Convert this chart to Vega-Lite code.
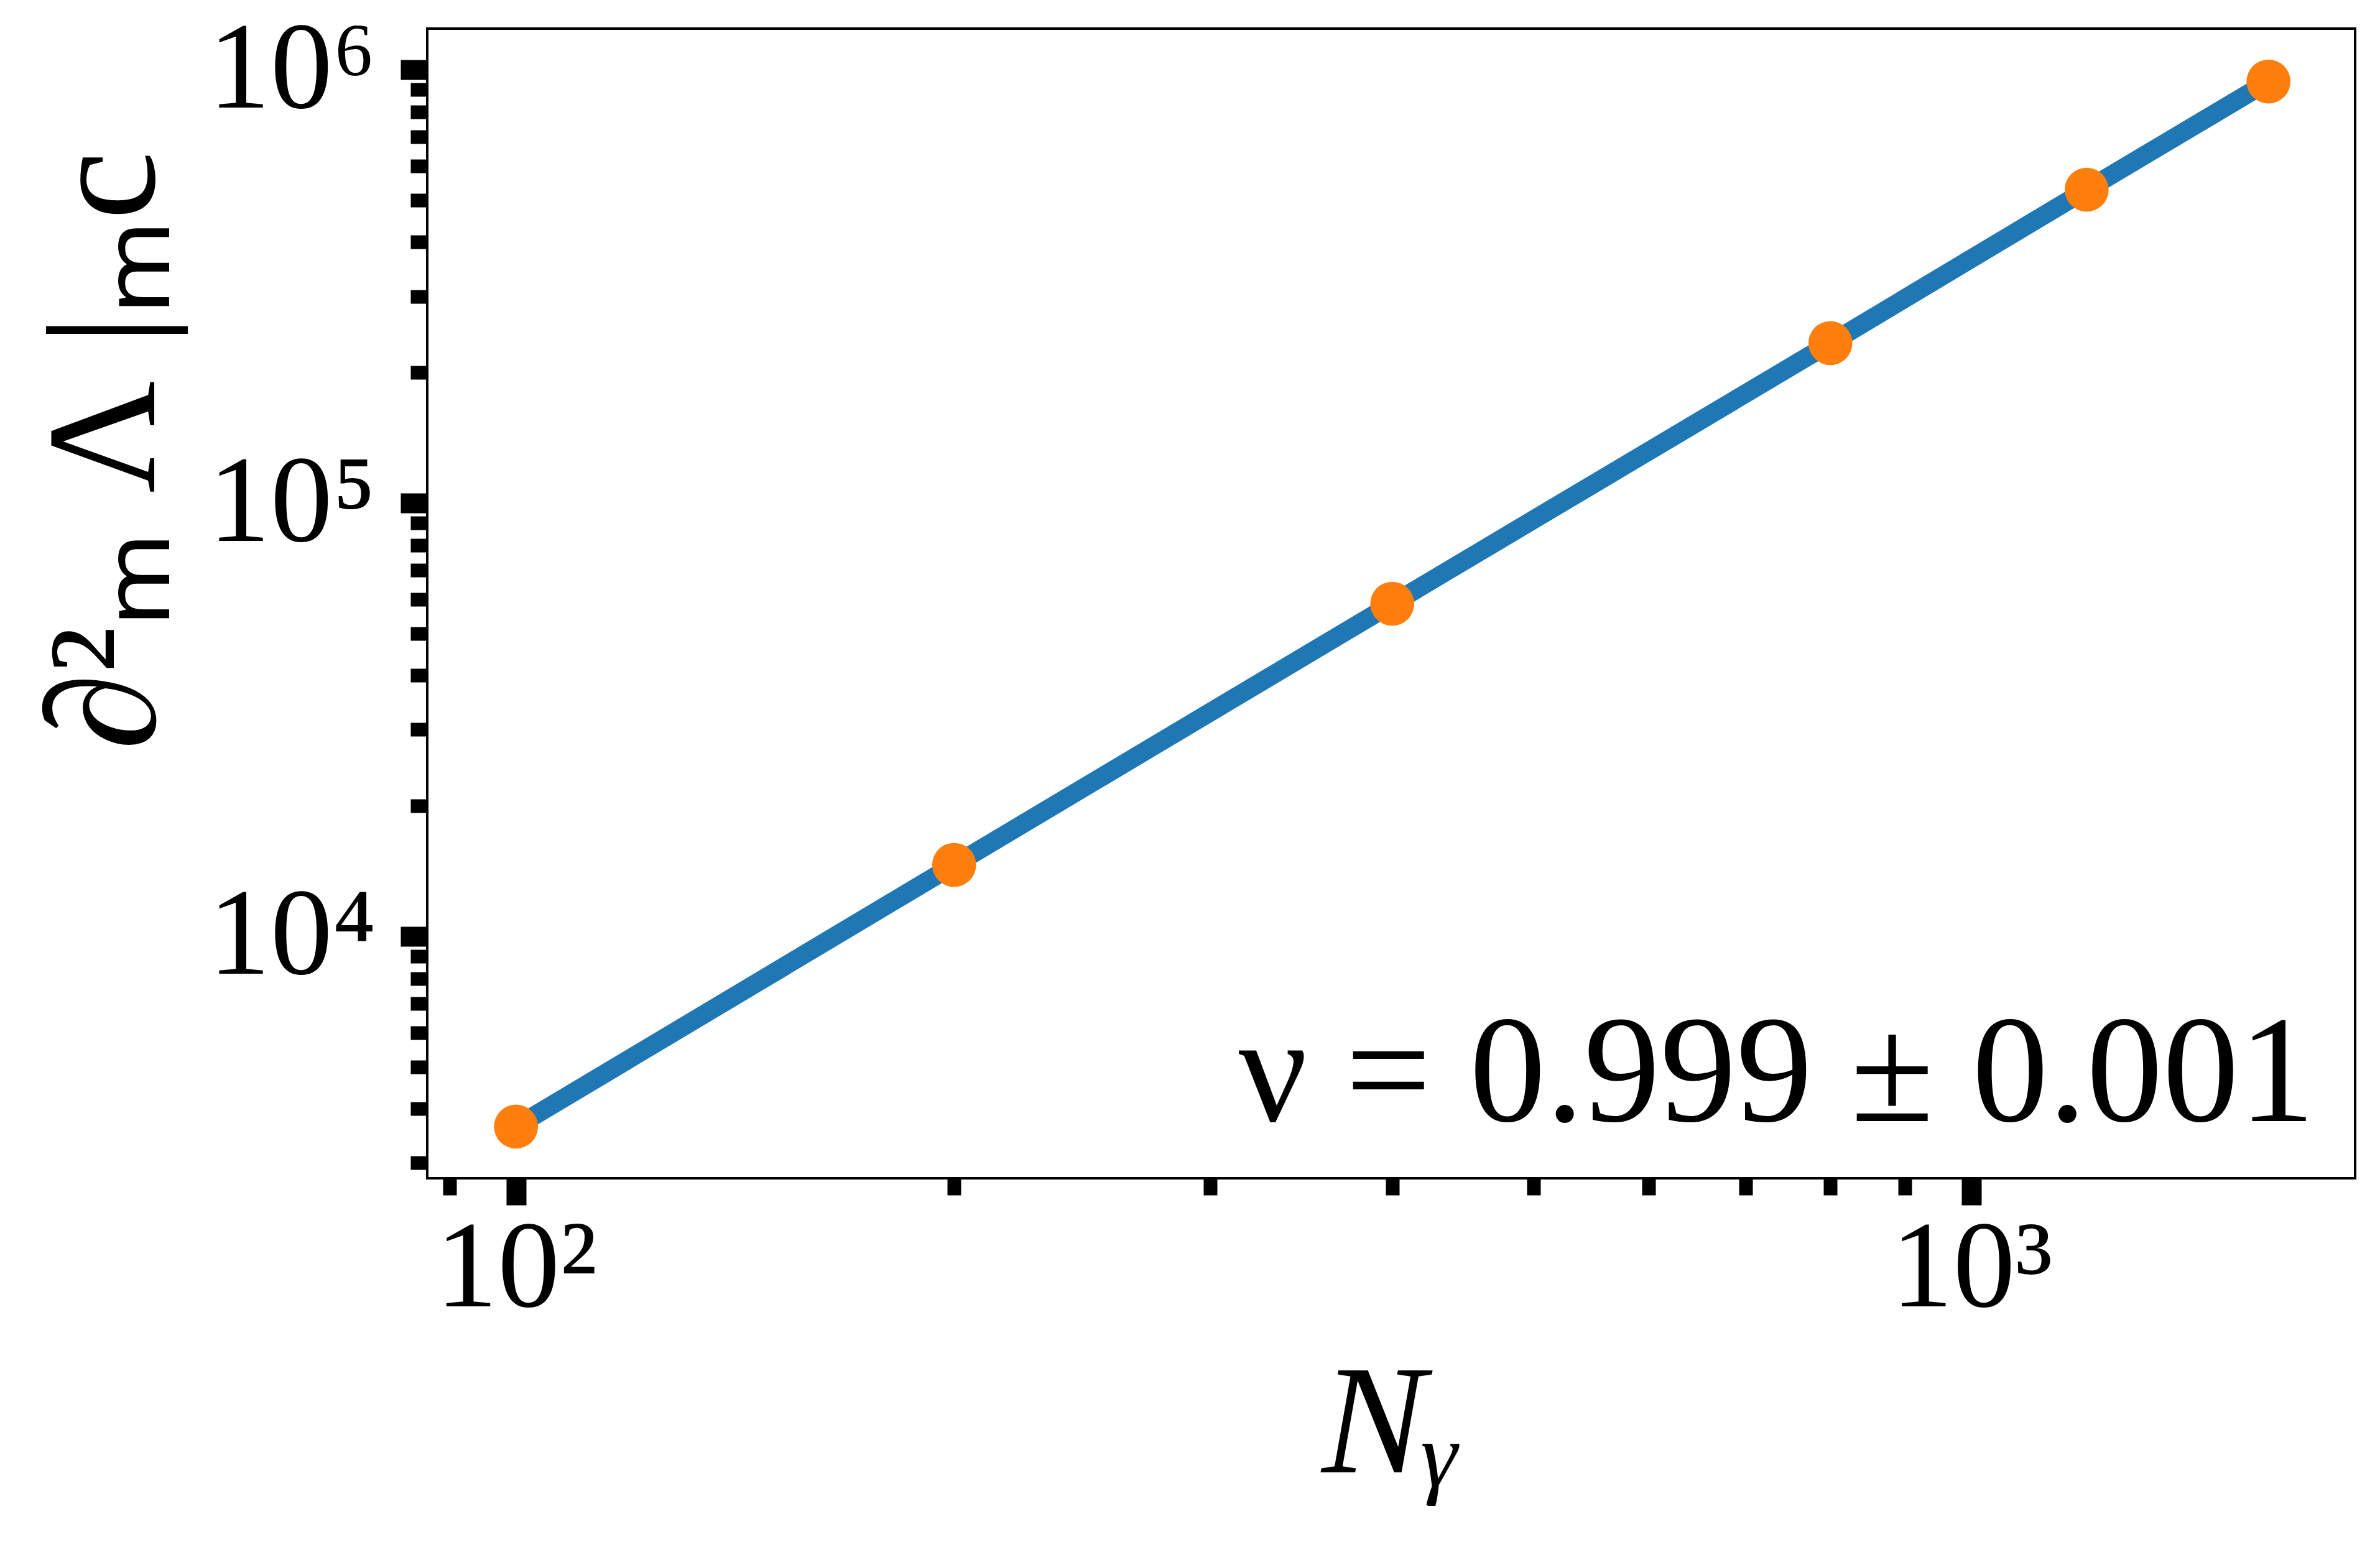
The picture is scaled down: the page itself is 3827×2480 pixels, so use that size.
{
  "$schema": "https://vega.github.io/schema/vega-lite/v6.json",
  "width": 3100,
  "height": 1849,
  "autosize": {"type": "none"},
  "padding": {"left": 687, "top": 46, "right": 40, "bottom": 585},
  "background": "white",
  "config": {
    "view": {"stroke": "black", "strokeWidth": 4},
    "axis": {
      "grid": false,
      "domain": false,
      "tickColor": "black",
      "labelColor": "black",
      "titleColor": "black",
      "labelFont": "Liberation Serif",
      "titleFont": "Liberation Serif",
      "labelFontWeight": "normal",
      "titleFontWeight": "normal",
      "labelLimit": 0,
      "titleLimit": 0
    }
  },
  "datasets": {
    "pts": [
      {"N": 100, "value": 3640},
      {"N": 200, "value": 14620},
      {"N": 400, "value": 58560},
      {"N": 800, "value": 233900},
      {"N": 1200, "value": 528500},
      {"N": 1600, "value": 939100}
    ],
    "note": [
      {"x": 1722, "y": 3750, "label": "ν = 0.999 ± 0.001"}
    ]
  },
  "layer": [
    {
      "data": {"name": "pts"},
      "mark": {"type": "line", "color": "#1f77b4", "strokeWidth": 30},
      "encoding": {
        "x": {
          "field": "N", "type": "quantitative",
          "scale": {"type": "log", "domain": [86.9, 1835], "nice": false},
          "axis": {
            "orient": "bottom",
            "values": [100, 1000],
            "labelExpr": "datum.value == 100 ? '10²' : '10³'",
            "labelFontSize": 200,
            "labelPadding": 4,
            "labelFlush": false,
            "labelOverlap": false,
            "tickSize": 43,
            "tickWidth": 32,
            "title": "Nᵧ",
            "titleFontSize": 250,
            "titleFontStyle": "italic",
            "titleBaseline": "alphabetic",
            "titleY": 472
          }
        },
        "y": {
          "field": "value", "type": "quantitative",
          "scale": {"type": "log", "domain": [2766, 1244000], "nice": false},
          "axis": {
            "orient": "left",
            "values": [10000, 100000, 1000000],
            "labelExpr": "datum.value == 10000 ? '10⁴' : datum.value == 100000 ? '10⁵' : '10⁶'",
            "labelFontSize": 200,
            "labelPadding": 40,
            "labelFlush": false,
            "labelOverlap": false,
            "tickSize": 43,
            "tickWidth": 32,
            "title": "∂²ₘ Λ |ₘc",
            "titleFontSize": 250,
            "titleAngle": 270,
            "titleBaseline": "alphabetic",
            "titleAlign": "center",
            "titleX": -440,
            "titleY": 678
          }
        }
      }
    },
    {
      "data": {"name": "pts"},
      "mark": {"type": "point", "filled": true, "shape": "circle", "color": "#ff7f0e", "opacity": 1, "size": 5000},
      "encoding": {
        "x": {
          "field": "N", "type": "quantitative",
          "scale": {"type": "log", "domain": [86.9, 1835], "nice": false},
          "axis": {
            "orient": "bottom",
            "values": [90, 200, 300, 400, 500, 600, 700, 800, 900],
            "labels": false,
            "tickSize": 27,
            "tickWidth": 22,
            "title": null
          }
        },
        "y": {
          "field": "value", "type": "quantitative",
          "scale": {"type": "log", "domain": [2766, 1244000], "nice": false},
          "axis": {
            "orient": "left",
            "values": [3000, 4000, 5000, 6000, 7000, 8000, 9000, 20000, 30000, 40000, 50000, 60000, 70000, 80000, 90000, 200000, 300000, 400000, 500000, 600000, 700000, 800000, 900000],
            "labels": false,
            "tickSize": 27,
            "tickWidth": 22,
            "title": null
          }
        }
      }
    },
    {
      "data": {"name": "note"},
      "mark": {"type": "text", "align": "right", "baseline": "alphabetic", "font": "Liberation Serif", "fontSize": 245, "color": "black"},
      "encoding": {
        "x": {"field": "x", "type": "quantitative", "scale": {"type": "log", "domain": [86.9, 1835], "nice": false}, "axis": null},
        "y": {"field": "y", "type": "quantitative", "scale": {"type": "log", "domain": [2766, 1244000], "nice": false}, "axis": null},
        "text": {"field": "label"}
      }
    }
  ],
  "resolve": {"axis": {"x": "independent", "y": "independent"}}
}
